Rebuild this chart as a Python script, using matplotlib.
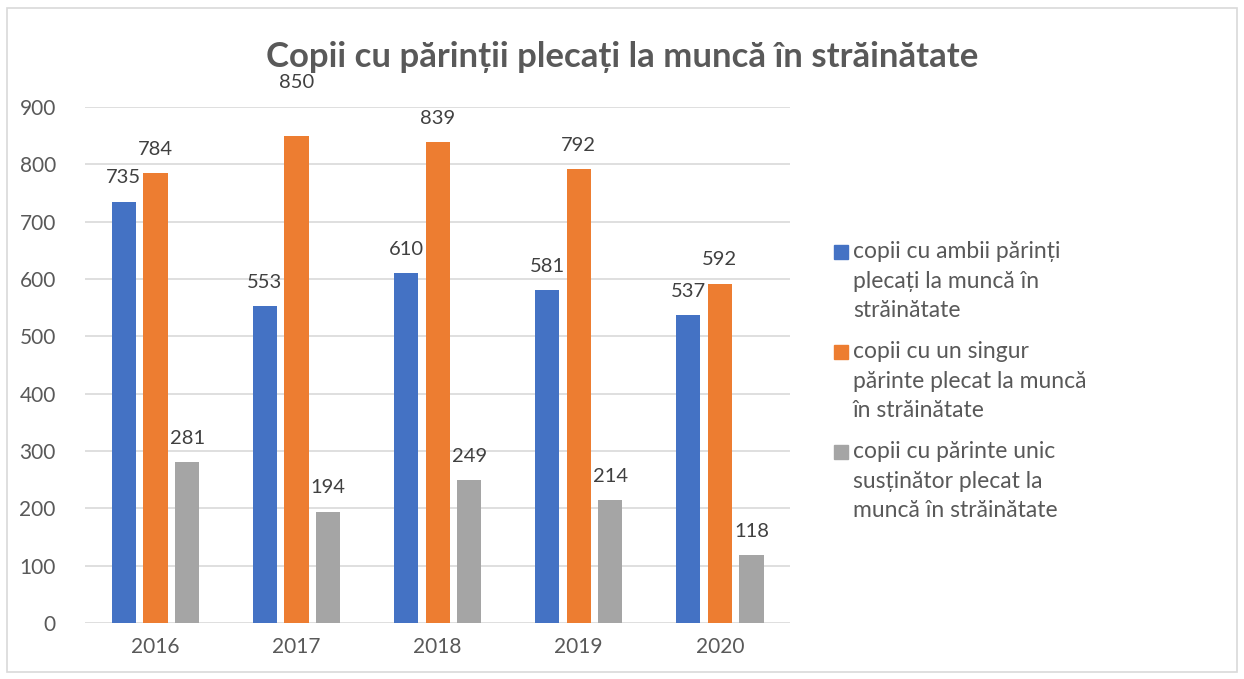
import matplotlib
matplotlib.use("Agg")
import matplotlib.pyplot as plt
import numpy as np

plt.rcParams["font.family"] = ["Lato", "DejaVu Sans"]

# chart data
years = ["2016", "2017", "2018", "2019", "2020"]
ambii_parinti = [735, 553, 610, 581, 537]
un_singur_parinte = [784, 850, 839, 792, 592]
parinte_unic = [281, 194, 249, 214, 118]
series_labels = [
    "copii cu ambii părinți\nplecați la muncă în\nstrăinătate",
    "copii cu un singur\npărinte plecat la muncă\nîn străinătate",
    "copii cu părinte unic\nsusținător plecat la\nmuncă în străinătate",
]
colors = ["#4472C4", "#ED7D31", "#A5A5A5"]
text_color = "#595959"

W, H = 1244, 679
fig = plt.figure(figsize=(W / 100, H / 100), dpi=100)
ax = fig.add_axes([0.0683, 0.0825, 0.567, 0.76])

x = np.arange(len(years))
width = 0.172
step = 0.224
all_series = [ambii_parinti, un_singur_parinte, parinte_unic]
for i, (vals, col) in enumerate(zip(all_series, colors)):
    bars = ax.bar(x + (i - 1) * step, vals, width, color=col, zorder=3)
    labels = ax.bar_label(bars, padding=11, fontsize=14.5, color="#404040")
    if i == 1:
        # the 2017 label was nudged upward in the original
        lab = labels[1]
        lab.xyann = (lab.xyann[0], lab.xyann[1] + 21)

ax.set_xlim(-0.5, len(years) - 0.5)
ax.set_ylim(0, 900)
ax.set_yticks(range(0, 901, 100))
ax.set_xticks(x)
ax.set_xticklabels(years)
ax.tick_params(length=0, labelsize=15, colors=text_color, pad=10)
ax.tick_params(axis="y", pad=21)
ax.yaxis.grid(True, color="#D9D9D9", linewidth=1.2, zorder=0)
for s in ax.spines.values():
    s.set_visible(False)

fig.suptitle("Copii cu părinții plecați la muncă în străinătate", x=0.5, y=0.94,
             fontsize=25, fontweight="bold", color=text_color)

# legend drawn by hand so the marker sits beside the first line
for k, (lab, col) in enumerate(zip(series_labels, colors)):
    base = 258 + k * 100  # baseline of the first line, px from top
    fig.patches.append(plt.Rectangle((834 / W, 1 - (base + 1) / H), 14 / W, 14 / H,
                                     transform=fig.transFigure, color=col))
    for j, line in enumerate(lab.split("\n")):
        fig.text(853 / W, 1 - (base + j * 29.5) / H, line, fontsize=16.5,
                 color=text_color, va="baseline", ha="left")

# light frame around the whole chart
fig.patches.append(plt.Rectangle((0.006, 0.011), 0.988, 0.977, transform=fig.transFigure,
                                 fill=False, edgecolor="#D9D9D9", linewidth=1.2))

fig.savefig("out.png", dpi=100)
